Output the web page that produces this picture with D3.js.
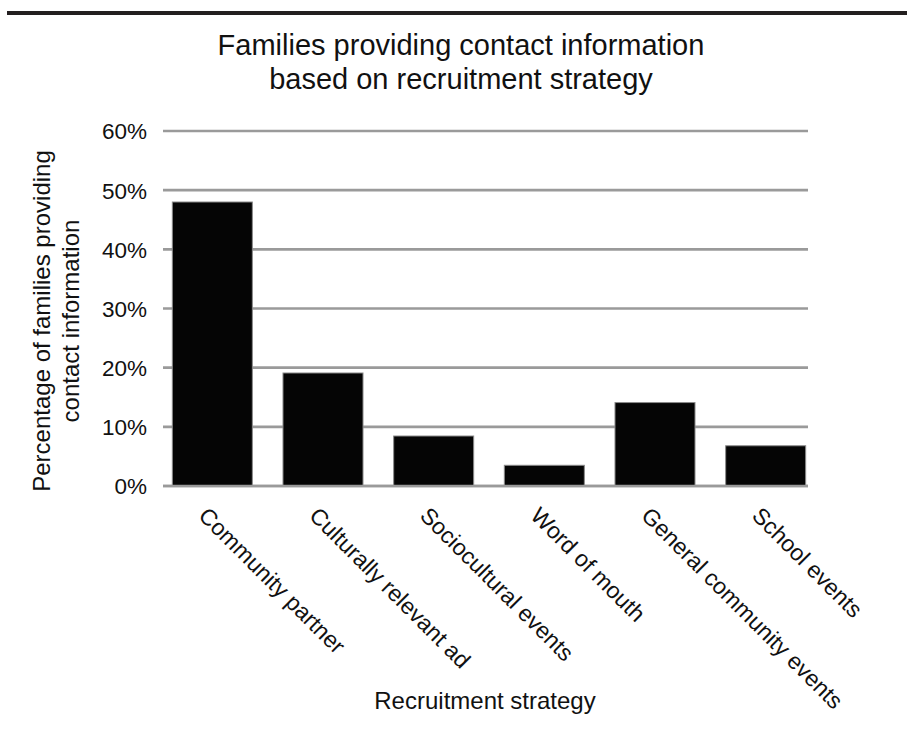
<!DOCTYPE html>
<html>
<head>
<meta charset="utf-8">
<script src="https://cdn.jsdelivr.net/npm/d3@7"></script>
<style>
  html, body { margin: 0; padding: 0; background: #fff; }
  svg { display: block; font-family: "Liberation Sans", Arial, sans-serif; }
</style>
</head>
<body>
<svg id="chart" width="909" height="736"></svg>
<script>
const categories = ["Community partner", "Culturally relevant ad", "Sociocultural events", "Word of mouth", "General community events", "School events"];
const values = [48.0, 19.1, 8.45, 3.5, 14.1, 6.8];
const yTicks = [0, 10, 20, 30, 40, 50, 60];
const titleLines = ["Families providing contact information", "based on recruitment strategy"];
const yTitleLines = ["Percentage of families providing", "contact information"];
const xTitle = "Recruitment strategy";

const svg = d3.select("#chart");
const plotLeft = 163, plotRight = 808;

// top rule
svg.append("rect").attr("x", 7).attr("y", 11).attr("width", 900).attr("height", 4).attr("fill", "#231f20");

const x = d3.scaleBand().domain(categories).range([157, 821]).paddingInner(0.277).paddingOuter(0.1385);
const y = d3.scaleLinear().domain([0, 60]).range([486, 131]);

// gridlines
svg.append("g").selectAll("line").data(yTicks).join("line")
  .attr("x1", plotLeft).attr("x2", plotRight)
  .attr("y1", d => y(d)).attr("y2", d => y(d))
  .attr("stroke", "#9a9a9a").attr("stroke-width", 2.6);

// y axis labels
const yAxis = d3.axisLeft(y).tickValues(yTicks).tickFormat(d => d + "%").tickSize(0).tickPadding(0);
const yg = svg.append("g").attr("transform", `translate(${plotLeft - 16},0)`).call(yAxis);
yg.select(".domain").remove();
yg.selectAll("text").attr("font-size", 22.5).attr("fill", "#111").attr("font-family", "Liberation Sans, Arial, sans-serif").attr("dy", "0.35em");

// bars
svg.append("g").selectAll("rect").data(categories).join("rect")
  .attr("x", d => x(d))
  .attr("width", x.bandwidth())
  .attr("y", (d, i) => y(values[i]))
  .attr("height", (d, i) => y(0) - y(values[i]))
  .attr("fill", "#050505")
  .attr("stroke", "#8a8a8a").attr("stroke-width", 1);

// baseline on top
svg.append("line").attr("x1", plotLeft).attr("x2", plotRight).attr("y1", y(0)).attr("y2", y(0))
  .attr("stroke", "#9a9a9a").attr("stroke-width", 2.6);

// x labels rotated
svg.append("g").selectAll("text").data(categories).join("text")
  .attr("transform", d => `translate(${x(d) + x.bandwidth() / 2 - 15},517) rotate(45)`)
  .attr("font-size", 23).attr("fill", "#111")
  .attr("text-anchor", "start")
  .text(d => d);

// title
svg.append("g").selectAll("text").data(titleLines).join("text")
  .attr("x", 461).attr("y", (d, i) => 55 + i * 34)
  .attr("text-anchor", "middle").attr("font-size", 29).attr("fill", "#111")
  .text(d => d);

// y title
svg.append("g").selectAll("text").data(yTitleLines).join("text")
  .attr("transform", (d, i) => `translate(${50 + i * 29},321) rotate(-90)`)
  .attr("text-anchor", "middle").attr("font-size", 24).attr("fill", "#111")
  .text(d => d);

// x title
svg.append("text").attr("x", 485).attr("y", 709).attr("text-anchor", "middle")
  .attr("font-size", 24).attr("fill", "#111").text(xTitle);
</script>
</body>
</html>
